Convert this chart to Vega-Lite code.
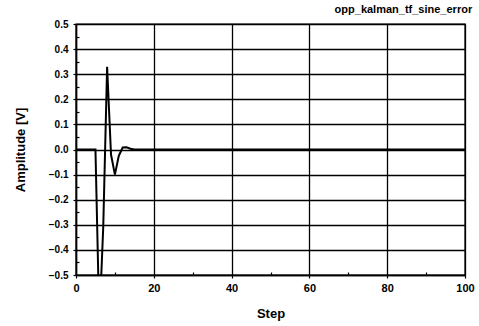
{
  "$schema": "https://vega.github.io/schema/vega-lite/v6.json",
  "width": 389,
  "height": 251,
  "autosize": "none",
  "padding": {"left": 76, "top": 24, "right": 14, "bottom": 51},
  "background": "white",
  "title": {
    "text": "opp_kalman_tf_sine_error",
    "anchor": "end",
    "orient": "top",
    "font": "Liberation Sans",
    "fontSize": 11,
    "fontWeight": "bold",
    "color": "black",
    "offset": 4,
    "dx": -2
  },
  "config": {
    "view": {"stroke": "black", "strokeWidth": 1.4},
    "axis": {
      "labelFont": "Liberation Sans",
      "labelFontWeight": "bold",
      "labelColor": "black",
      "labelOverlap": false,
      "labelFlush": false,
      "labelBound": false,
      "titleFont": "Liberation Sans",
      "titleFontWeight": "bold",
      "titleColor": "black",
      "domainColor": "black",
      "domainWidth": 1.5,
      "tickColor": "black",
      "tickWidth": 1.2,
      "gridColor": "black",
      "gridWidth": 1.3
    }
  },
  "data": {
    "values": [
      {"step": 0, "error": 0},
      {"step": 1, "error": 0},
      {"step": 2, "error": 0},
      {"step": 3, "error": 0},
      {"step": 4, "error": 0},
      {"step": 5, "error": 0},
      {"step": 6, "error": -0.69},
      {"step": 7, "error": -0.31},
      {"step": 8, "error": 0.33},
      {"step": 9, "error": -0.02},
      {"step": 10, "error": -0.1},
      {"step": 11, "error": -0.025},
      {"step": 12, "error": 0.008},
      {"step": 13, "error": 0.009},
      {"step": 14, "error": 0.003},
      {"step": 15, "error": 0},
      {"step": 20, "error": 0},
      {"step": 40, "error": 0},
      {"step": 60, "error": 0},
      {"step": 80, "error": 0},
      {"step": 100, "error": 0}
    ]
  },
  "mark": {"type": "line", "color": "black", "strokeWidth": 2, "clip": true},
  "encoding": {
    "x": {
      "field": "step",
      "type": "quantitative",
      "scale": {"domain": [0, 100], "nice": false, "zero": false},
      "axis": {
        "title": "Step",
        "titleFontSize": 13,
        "titlePadding": 14,
        "values": [0, 10, 20, 30, 40, 50, 60, 70, 80, 90, 100],
        "labelExpr": "datum.value % 20 === 0 ? datum.label : ''",
        "labelFontSize": 11,
        "labelPadding": 4,
        "tickSize": {"condition": {"test": "datum.value % 20 !== 0", "value": -3}, "value": 3},
        "grid": true,
        "gridOpacity": {"condition": {"test": "datum.value % 20 !== 0", "value": 0}, "value": 1}
      }
    },
    "y": {
      "field": "error",
      "type": "quantitative",
      "scale": {"domain": [-0.5, 0.5], "nice": false, "zero": false},
      "axis": {
        "title": "Amplitude [V]",
        "titleFontSize": 13,
        "titlePadding": 21,
        "values": [-0.5, -0.45, -0.4, -0.35, -0.3, -0.25, -0.2, -0.15, -0.1, -0.05, 0, 0.05, 0.1, 0.15, 0.2, 0.25, 0.3, 0.35, 0.4, 0.45, 0.5],
        "format": ".1f",
        "labelExpr": "abs(datum.value * 10 - round(datum.value * 10)) < 0.01 ? datum.label : ''",
        "labelFontSize": 10,
        "labelPadding": 5,
        "tickSize": {"condition": {"test": "abs(datum.value * 10 - round(datum.value * 10)) > 0.01", "value": -3}, "value": 3},
        "grid": true,
        "gridOpacity": {"condition": {"test": "abs(datum.value * 10 - round(datum.value * 10)) > 0.01", "value": 0}, "value": 1}
      }
    }
  }
}
